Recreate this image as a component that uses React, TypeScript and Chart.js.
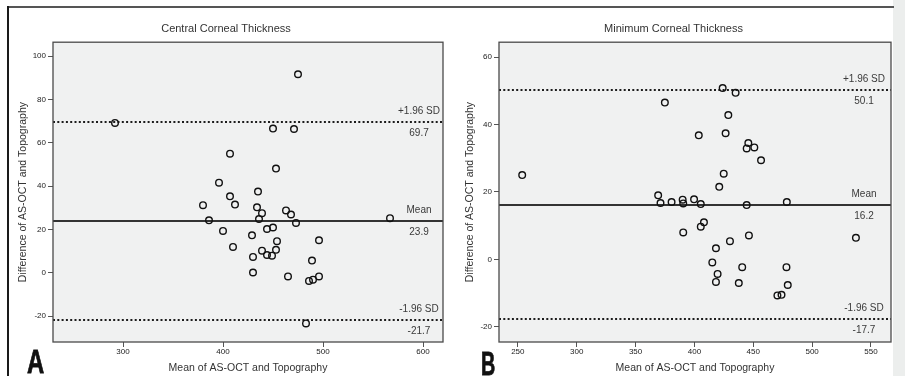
import React, { useEffect, useRef } from "react";
import { Chart, registerables } from "chart.js";

Chart.register(...registerables);

// ---------- text ----------
const ccTitle = "Central Corneal Thickness";
const mctTitle = "Minimum Corneal Thickness";
const xAxisLabel = "Mean of AS-OCT and Topography";
const yAxisLabel = "Difference of AS-OCT and Topography";
const panelA = "A";
const panelB = "B";
const upperLabel = "+1.96 SD";
const meanLabel = "Mean";
const lowerLabel = "-1.96 SD";

// ---------- Central Corneal Thickness (panel A) ----------
const ccMean = [475, 292, 450, 471, 407, 453, 396, 435, 407, 380, 412, 434, 439, 436, 463, 468, 473, 567, 386, 400, 429, 444, 450, 454, 496, 410, 439, 444, 449, 453, 430, 489, 430, 465, 486, 490, 496, 483];
const ccDiff = [91.7, 69.2, 66.6, 66.4, 55.0, 48.1, 41.6, 37.5, 35.3, 31.2, 31.5, 30.2, 27.5, 24.8, 28.8, 26.9, 23.0, 25.2, 24.2, 19.3, 17.3, 20.2, 20.9, 14.6, 15.0, 11.9, 10.2, 8.2, 7.9, 10.6, 7.3, 5.6, 0.1, -1.7, -3.8, -3.2, -1.7, -23.4];
const ccBias = 23.9;
const ccUpperLoA = 69.7;
const ccLowerLoA = -21.7;
const ccXTicks = [300, 400, 500, 600];
const ccYTicks = [-20, 0, 20, 40, 60, 80, 100];

// ---------- Minimum Corneal Thickness (panel B) ----------
const mctMean = [253.7, 374.9, 424, 435, 428.8, 403.7, 426.5, 445.8, 444.4, 450.9, 456.6, 424.9, 421.1, 369.2, 371.2, 380.6, 390, 390.5, 399.7, 405.4, 444.4, 478.5, 408.1, 405.4, 390.5, 430.2, 446.3, 537.2, 418.3, 415.2, 419.7, 418.3, 440.6, 437.7, 478.2, 479.3, 470.5, 474.0];
const mctDiff = [25.0, 46.5, 50.8, 49.4, 42.8, 36.8, 37.4, 34.5, 32.9, 33.2, 29.4, 25.4, 21.5, 19.0, 16.7, 17.0, 17.7, 16.6, 17.8, 16.4, 16.1, 17.0, 11.0, 9.7, 8.0, 5.4, 7.1, 6.4, 3.3, -0.9, -4.3, -6.7, -2.3, -7.0, -2.3, -7.6, -10.7, -10.5];
const mctBias = 16.2;
const mctUpperLoA = 50.1;
const mctLowerLoA = -17.7;
const mctXTicks = [250, 300, 350, 400, 450, 500, 550];
const mctYTicks = [-20, 0, 20, 40, 60];

const FONT = "'Liberation Sans', Arial, sans-serif";

const blandAltmanPlugin = {
  id: "blandAltman",
  beforeDraw(chart: any, _args: any, opts: any) {
    const { ctx, chartArea: a } = chart;
    ctx.save();
    ctx.fillStyle = opts.plotBg;
    ctx.fillRect(a.left, a.top, a.right - a.left, a.bottom - a.top);
    ctx.restore();
  },
  beforeDatasetsDraw(chart: any, _args: any, opts: any) {
    const { ctx, chartArea: a } = chart;
    const y = chart.scales.y;
    ctx.save();
    ctx.beginPath();
    ctx.rect(a.left, a.top, a.right - a.left, a.bottom - a.top);
    ctx.clip();
    for (const ln of opts.lines) {
      const py = Math.round(y.getPixelForValue(ln.value));
      ctx.beginPath();
      if (ln.dotted) {
        ctx.setLineDash([2, 2.3]);
        ctx.lineWidth = 2;
        ctx.strokeStyle = "#1c1c1c";
      } else {
        ctx.setLineDash([]);
        ctx.lineWidth = 2;
        ctx.strokeStyle = "#333";
      }
      ctx.moveTo(a.left, py);
      ctx.lineTo(a.right, py);
      ctx.stroke();
      ctx.setLineDash([]);
      ctx.font = `10px ${FONT}`;
      ctx.fillStyle = "#3a3a3a";
      ctx.textAlign = "center";
      ctx.textBaseline = "middle";
      const cx = a.right - opts.labelInset;
      ctx.fillText(ln.label, cx, py - opts.labelGap);
      ctx.fillText(ln.value.toFixed(1), cx, py + opts.labelGap);
    }
    ctx.restore();
  },
  afterDraw(chart: any) {
    const { ctx, chartArea: a } = chart;
    ctx.save();
    ctx.strokeStyle = "#4a4a4a";
    ctx.lineWidth = 1.3;
    ctx.strokeRect(a.left, a.top, a.right - a.left, a.bottom - a.top);
    ctx.restore();
  },
};

function makeChart(
  canvas: HTMLCanvasElement,
  p: {
    title: string;
    xs: number[];
    ys: number[];
    xMin: number;
    xMax: number;
    yMin: number;
    yMax: number;
    xTicks: number[];
    yTicks: number[];
    bias: number;
    upper: number;
    lower: number;
    yAxisWidth: number;
    padRight: number;
    labelInset: number;
  }
) {
  const pts = p.xs.map((x, i) => ({ x, y: p.ys[i] }));
  const tickFont = { family: FONT, size: 8 };
  return new Chart(canvas, {
    type: "scatter",
    data: {
      datasets: [
        {
          data: pts,
          pointRadius: 3.3,
          pointBorderWidth: 1.4,
          pointBorderColor: "#111",
          pointBackgroundColor: "rgba(0,0,0,0)",
          pointHoverRadius: 3.3,
        },
      ],
    },
    plugins: [blandAltmanPlugin],
    options: {
      animation: false,
      responsive: false,
      events: [],
      layout: { padding: { left: 0, right: p.padRight, top: 0, bottom: 0 } },
      plugins: {
        legend: { display: false },
        tooltip: { enabled: false },
        title: {
          display: true,
          text: p.title,
          color: "#333",
          font: { family: FONT, size: 11, weight: "normal" },
          padding: { top: 14, bottom: 7 },
        },
        blandAltman: {
          plotBg: "#f0f1f1",
          labelInset: p.labelInset,
          labelGap: 11,
          lines: [
            { value: p.upper, dotted: true, label: upperLabel },
            { value: p.bias, dotted: false, label: meanLabel },
            { value: p.lower, dotted: true, label: lowerLabel },
          ],
        },
      } as any,
      scales: {
        x: {
          type: "linear",
          min: p.xMin,
          max: p.xMax,
          afterBuildTicks: (s: any) => {
            s.ticks = p.xTicks.map((v) => ({ value: v }));
          },
          afterFit: (s: any) => {
            s.height = 34;
          },
          grid: { display: true, drawOnChartArea: false, drawTicks: true, tickLength: 5, color: "#555" },
          border: { display: false },
          ticks: { color: "#222", font: tickFont, padding: 0, autoSkip: false, maxRotation: 0 },
          title: {
            display: true,
            text: xAxisLabel,
            color: "#333",
            font: { family: FONT, size: 10.5 },
            padding: { top: 0, bottom: 2 },
          },
        },
        y: {
          type: "linear",
          min: p.yMin,
          max: p.yMax,
          afterBuildTicks: (s: any) => {
            s.ticks = p.yTicks.map((v) => ({ value: v }));
          },
          afterFit: (s: any) => {
            s.width = p.yAxisWidth;
          },
          grid: { display: true, drawOnChartArea: false, drawTicks: true, tickLength: 5, color: "#555" },
          border: { display: false },
          ticks: { color: "#222", font: tickFont, padding: 2, autoSkip: false },
          title: {
            display: true,
            text: yAxisLabel,
            color: "#333",
            font: { family: FONT, size: 10.5 },
            padding: { top: 8, bottom: 0 },
          },
        },
      },
    } as any,
  });
}

export default function App() {
  const refA = useRef<HTMLCanvasElement>(null);
  const refB = useRef<HTMLCanvasElement>(null);

  useEffect(() => {
    const a = makeChart(refA.current!, {
      title: ccTitle,
      xs: ccMean,
      ys: ccDiff,
      xMin: 230,
      xMax: 620,
      yMin: -32,
      yMax: 106.5,
      xTicks: ccXTicks,
      yTicks: ccYTicks,
      bias: ccBias,
      upper: ccUpperLoA,
      lower: ccLowerLoA,
      yAxisWidth: 44,
      padRight: 7,
      labelInset: 24,
    });
    const b = makeChart(refB.current!, {
      title: mctTitle,
      xs: mctMean,
      ys: mctDiff,
      xMin: 234,
      xMax: 567,
      yMin: -24.5,
      yMax: 64.4,
      xTicks: mctXTicks,
      yTicks: mctYTicks,
      bias: mctBias,
      upper: mctUpperLoA,
      lower: mctLowerLoA,
      yAxisWidth: 43,
      padRight: 6,
      labelInset: 27,
    });
    return () => {
      a.destroy();
      b.destroy();
    };
  }, []);

  const letter: React.CSSProperties = {
    position: "absolute",
    fontFamily: "'Liberation Sans Narrow', 'Liberation Sans', sans-serif",
    fontWeight: "bold",
    fontSize: 34,
    lineHeight: 1,
    color: "#111",
    transformOrigin: "left top",
    whiteSpace: "nowrap",
    WebkitTextStroke: "0.8px #111",
  };

  return (
    <div
      style={{
        position: "absolute",
        left: 0,
        top: 0,
        width: 905,
        height: 376,
        background: "#fff",
        overflow: "hidden",
      }}
    >
      <div style={{ position: "absolute", left: 893, top: 0, width: 12, height: 376, background: "#eceeed" }} />
      <div style={{ position: "absolute", left: 7, top: 6, width: 887, height: 2, background: "#555" }} />
      <div style={{ position: "absolute", left: 7, top: 6, width: 2, height: 370, background: "#1a1a1a" }} />
      <canvas
        ref={refA}
        width={441}
        height={368}
        style={{ position: "absolute", left: 9, top: 8, width: 441, height: 368 }}
      />
      <canvas
        ref={refB}
        width={441}
        height={368}
        style={{ position: "absolute", left: 456, top: 8, width: 441, height: 368 }}
      />
      <div style={{ ...letter, left: 27, top: 344, transform: "scaleX(0.7)" }}>{panelA}</div>
      <div style={{ ...letter, left: 481, top: 347, fontSize: 33, transform: "scaleX(0.6)" }}>{panelB}</div>
    </div>
  );
}
